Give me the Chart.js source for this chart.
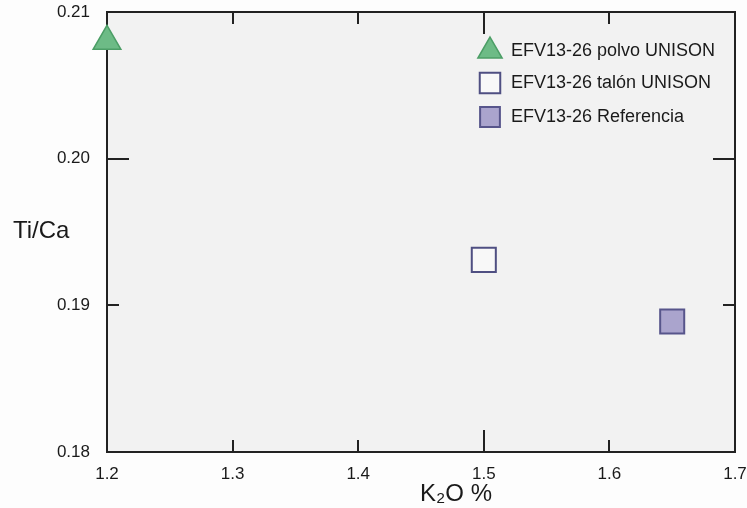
<!DOCTYPE html>
<html lang="es">

<head>
    <meta charset="utf-8" />
    <title>Ti/Ca vs K2O</title>
    <script src="https://cdn.jsdelivr.net/npm/chart.js"></script>
    <style>
        body {
            margin: 0;
            background: #fdfdfd;
        }

        .chart-box {
            width: 747px;
            height: 508px;
        }
    </style>
</head>

<body>
    <div class="chart-box">
        <canvas id="tiCaChart"></canvas>
    </div>

    <script>
        // series (K2O %, Ti/Ca)
        const seriesNames = ['EFV13-26 polvo UNISON', 'EFV13-26 talón UNISON', 'EFV13-26 Referencia'];
        const polvoK2O = [1.2];
        const polvoTiCa = [0.208];
        const talonK2O = [1.5];
        const talonTiCa = [0.1931];
        const referenciaK2O = [1.65];
        const referenciaTiCa = [0.1889];

        // axes
        const xTicks = [1.2, 1.3, 1.4, 1.5, 1.6, 1.7];
        const yTicks = [0.18, 0.19, 0.20, 0.21];
        const xLongTicks = [1.5];
        const yLongTicks = [0.20];

        const toPoints = (xs, ys) => xs.map((x, i) => ({ x: x, y: ys[i] }));
        const font = 'Liberation Sans, Arial, sans-serif';
        const near = (a, b) => Math.abs(a - b) < 1e-6;

        // plot background, inner ticks, frame, axis titles, legend
        const framePlugin = {
            id: 'frame',
            beforeDraw(chart) {
                const { ctx, chartArea: a } = chart;
                ctx.save();
                ctx.fillStyle = '#f2f2f2';
                ctx.fillRect(a.left, a.top, a.right - a.left, a.bottom - a.top);
                ctx.restore();
            },
            beforeDatasetsDraw(chart) {
                const { ctx, chartArea: a, scales } = chart;
                ctx.save();
                ctx.strokeStyle = '#222';
                ctx.lineWidth = 2;
                ctx.strokeRect(a.left, a.top, a.right - a.left, a.bottom - a.top);
                ctx.beginPath();
                xTicks.slice(1, -1).forEach(v => {
                    const px = Math.round(scales.x.getPixelForValue(v));
                    const len = xLongTicks.some(t => near(t, v)) ? 22 : 12;
                    ctx.moveTo(px, a.bottom);
                    ctx.lineTo(px, a.bottom - len);
                    ctx.moveTo(px, a.top);
                    ctx.lineTo(px, a.top + len);
                });
                yTicks.slice(1, -1).forEach(v => {
                    const py = Math.round(scales.y.getPixelForValue(v));
                    const len = yLongTicks.some(t => near(t, v)) ? 22 : 12;
                    ctx.moveTo(a.left, py);
                    ctx.lineTo(a.left + len, py);
                    ctx.moveTo(a.right, py);
                    ctx.lineTo(a.right - len, py);
                });
                ctx.stroke();

                ctx.fillStyle = '#1a1a1a';
                ctx.textBaseline = 'middle';
                ctx.font = '24px ' + font;
                ctx.textAlign = 'left';
                ctx.fillText('Ti/Ca', 13, 231);
                ctx.textAlign = 'center';
                ctx.fillText('K₂O %', 456, 494);
                ctx.restore();
            },
            afterDatasetsDraw(chart) {
                const { ctx } = chart;
                const rows = [51, 83, 117];
                const sizes = [14, 14.5, 14];
                ctx.save();
                chart.data.datasets.forEach((ds, i) => {
                    ctx.fillStyle = ds.backgroundColor;
                    ctx.strokeStyle = ds.borderColor;
                    ctx.lineWidth = ds.borderWidth;
                    Chart.helpers.drawPoint(ctx, {
                        pointStyle: ds.pointStyle,
                        radius: sizes[i],
                        rotation: 0,
                        borderWidth: ds.borderWidth
                    }, 490, rows[i]);
                    ctx.fillStyle = '#1a1a1a';
                    ctx.font = '18px ' + font;
                    ctx.textAlign = 'left';
                    ctx.textBaseline = 'middle';
                    ctx.fillText(ds.label, 511, rows[i]);
                });
                ctx.restore();
            }
        };

        const ctx = document.getElementById('tiCaChart').getContext('2d');
        const tiCaChart = new Chart(ctx, {
            type: 'scatter',
            data: {
                datasets: [{
                    label: seriesNames[0],
                    data: toPoints(polvoK2O, polvoTiCa),
                    pointStyle: 'triangle',
                    pointRadius: 16,
                    backgroundColor: '#6dbb86',
                    borderColor: '#4c9e66',
                    borderWidth: 1.5,
                    clip: false
                }, {
                    label: seriesNames[1],
                    data: toPoints(talonK2O, talonTiCa),
                    pointStyle: 'rect',
                    pointRadius: 17,
                    backgroundColor: '#f8f8f8',
                    borderColor: '#4f4f82',
                    borderWidth: 2,
                    clip: false
                }, {
                    label: seriesNames[2],
                    data: toPoints(referenciaK2O, referenciaTiCa),
                    pointStyle: 'rect',
                    pointRadius: 17,
                    backgroundColor: '#aaa4cd',
                    borderColor: '#57558b',
                    borderWidth: 2,
                    clip: false
                }]
            },
            options: {
                responsive: true,
                maintainAspectRatio: false,
                animation: false,
                layout: {
                    autoPadding: false,
                    padding: { top: 12, right: 12, left: 0, bottom: 0 }
                },
                plugins: {
                    legend: { display: false },
                    tooltip: { enabled: false }
                },
                scales: {
                    x: {
                        type: 'linear',
                        min: xTicks[0],
                        max: xTicks[xTicks.length - 1],
                        afterBuildTicks: s => { s.ticks = xTicks.map(v => ({ value: v })); },
                        afterFit: s => { s.height = 56; s.paddingLeft = 0; s.paddingRight = 0; },
                        grid: { display: false, drawTicks: false },
                        border: { display: false },
                        ticks: {
                            padding: 12,
                            color: '#1a1a1a',
                            font: { family: font, size: 17 },
                            maxRotation: 0,
                            callback: v => v.toFixed(1)
                        }
                    },
                    y: {
                        type: 'linear',
                        min: yTicks[0],
                        max: yTicks[yTicks.length - 1],
                        afterBuildTicks: s => { s.ticks = yTicks.map(v => ({ value: v })); },
                        afterFit: s => { s.width = 107; s.paddingTop = 0; s.paddingBottom = 0; },
                        grid: { display: false, drawTicks: false },
                        border: { display: false },
                        ticks: {
                            padding: 17,
                            color: '#1a1a1a',
                            font: { family: font, size: 17 },
                            callback: v => v.toFixed(2)
                        }
                    }
                }
            },
            plugins: [framePlugin]
        });
    </script>
</body>

</html>
